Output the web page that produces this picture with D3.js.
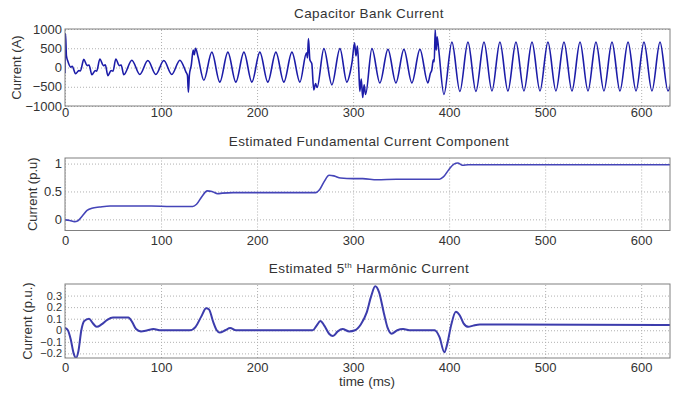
<!DOCTYPE html>
<html>
<head>
<meta charset="utf-8">
<script src="https://cdn.jsdelivr.net/npm/d3@7"></script>
<style>
  body { margin: 0; background: #fff; }
  svg { display: block; font-family: "Liberation Sans", Arial, sans-serif; }
  .grid line { stroke: #b0b0b0; stroke-dasharray: 1,2; }
  .grid .domain { display: none; }
  .lbl text { fill: #333; }
  .lbl .domain, .lbl line { display: none; }
</style>
</head>
<body>
<svg id="chart"></svg>
<script>
const W = 673, H = 396;
const left = 65, right = 670;

// time axis (ms)
const timeTicks = [0, 100, 200, 300, 400, 500, 600];

// panel 1: capacitor bank current (A), read at peaks / troughs / transients
const bankTicks = [-1000, -500, 0, 500, 1000];
const bankCurrent = [
  [0, -150], [0.5, 880], [1.5, 300], [2.9, 170], [6, 10], [7.5, 30], [11, -160], [14.5, -80], [16, -90],
  [19.6, 210], [23, 50], [25, 65], [28, -190], [31.5, -80], [33, -95], [36.3, 220], [40, 50], [42, 70],
  [44.6, -210], [48, -80], [50, -95], [52.9, 220], [56.5, 50], [58.5, 65], [61.2, -190], [69.6, 190],
  [77.9, -180], [86.3, 180], [94.6, -180], [102.9, 180], [111.2, -180], [119.6, 190], [126, -120],
  [127.5, -200], [128.5, -640], [129.5, -200], [131.5, 60], [133.5, 450], [134.5, 330], [136, 500],
  [138.5, 280], [144.6, -330], [152.9, 400], [161.2, -380], [169.6, 400], [177.9, -380], [186.3, 400],
  [194.6, -380], [202.9, 400], [211.2, -380], [219.6, 400], [227.9, -380], [236.3, 400], [244.6, -380],
  [251.5, 380], [252.5, 250], [253.5, 750], [255, 200], [257, 100], [259, -580], [261, -420], [262.5, -520],
  [269.6, 490], [277.9, -450], [286.3, 490], [293.5, -380], [297, -120], [299, 150], [301.5, 640],
  [303, 300], [304.5, 560], [306, -100], [307, -620], [308.5, -300], [310, -780], [311.5, -450],
  [313, -700], [319.6, 490], [327.9, -400], [336.3, 470], [344.6, -400], [352.9, 470], [361.2, -400],
  [369.6, 470], [377.9, -400], [380.5, -150], [382, -60], [383.5, 200], [384.5, 150], [385.5, 980],
  [386.5, 450], [387.5, 800], [389, 500], [394.6, -700], [402.9, 660], [411.2, -620], [419.6, 660],
  [427.9, -620], [436.3, 660], [444.6, -610], [452.9, 660], [461.2, -610], [469.6, 660], [477.9, -610],
  [486.3, 660], [494.6, -610], [502.9, 660], [511.2, -610], [519.6, 660], [527.9, -610], [536.3, 660],
  [544.6, -610], [552.9, 660], [561.2, -610], [569.6, 660], [577.9, -610], [586.3, 660], [594.6, -610],
  [602.9, 660], [611.2, -610], [619.6, 660], [627.9, -610], [636.3, 660]
];

// panel 2: estimated fundamental (p.u)
const fundTicks = [0, 0.5, 1];
const fundamental = [
  [0, -0.01], [5, -0.02], [10, -0.04], [13, -0.03], [18, 0.06], [23, 0.16], [28, 0.2], [36, 0.22],
  [47, 0.24], [90, 0.24], [110, 0.23], [133, 0.23], [137, 0.27], [143, 0.42], [148, 0.51], [153, 0.5],
  [159, 0.46], [164, 0.47], [175, 0.48], [261, 0.48], [265, 0.53], [270, 0.68], [275, 0.79], [280, 0.78],
  [287, 0.74], [300, 0.73], [310, 0.73], [325, 0.71], [345, 0.72], [390, 0.72], [394, 0.76], [400, 0.9],
  [405, 0.99], [409, 1.01], [414, 0.97], [420, 0.98], [630, 0.98]
];

// panel 3: estimated 5th harmonic (p.u.)
const harmTicks = [-0.2, -0.1, 0, 0.1, 0.2, 0.3];
const harmonic = [
  [0, 0.02], [3, 0.0], [6, -0.08], [9, -0.2], [11.5, -0.24], [14, -0.18], [17, 0.0], [20, 0.08],
  [25, 0.1], [29, 0.06], [33, 0.03], [38, 0.05], [44, 0.09], [50, 0.11], [66, 0.11], [70, 0.07],
  [74, 0.01], [79, -0.01], [86, 0.0], [92, 0.01], [100, 0.0], [130, 0.0], [136, 0.03], [142, 0.12],
  [147, 0.19], [150, 0.18], [154, 0.08], [158, 0.0], [161, -0.02], [167, 0.0], [172, 0.02], [178, 0.0],
  [258, 0.0], [262, 0.04], [266, 0.08], [270, 0.04], [275, -0.03], [279, -0.05], [284, -0.01],
  [289, 0.01], [296, -0.01], [302, 0.0], [308, 0.05], [314, 0.15], [319, 0.3], [323, 0.38], [327, 0.33],
  [332, 0.15], [336, 0.02], [340, -0.03], [346, 0.0], [352, 0.01], [360, 0.0], [385, 0.0], [390, -0.06],
  [395, -0.19], [398, -0.12], [402, 0.04], [407, 0.16], [411, 0.13], [415, 0.06], [420, 0.03],
  [425, 0.04], [432, 0.05], [630, 0.045]
];

const svg = d3.select("#chart").attr("width", W).attr("height", H);

const x = d3.scaleLinear().domain([0, 630]).range([left, right]);

function drawPanel(p) {
  const y = d3.scaleLinear().domain(p.yDomain).range([p.bottom, p.top]);
  const g = svg.append("g");
  const ph = p.bottom - p.top;

  // dotted grid from the axes
  g.append("g").attr("class", "grid")
    .attr("transform", `translate(0,${p.bottom})`)
    .call(d3.axisBottom(x).tickValues(timeTicks).tickSize(-ph).tickFormat(""));
  g.append("g").attr("class", "grid")
    .attr("transform", `translate(${left},0)`)
    .call(d3.axisLeft(y).tickValues(p.yTicks).tickSize(-(right - left)).tickFormat(""));

  // clipped curve
  const clipId = "clip" + p.id;
  g.append("clipPath").attr("id", clipId)
    .append("rect").attr("x", left).attr("y", p.top).attr("width", right - left).attr("height", ph);
  const line = d3.line().x(d => x(d[0])).y(d => y(d[1])).curve(d3.curveMonotoneX);
  g.append("path").datum(p.data)
    .attr("clip-path", `url(#${clipId})`)
    .attr("fill", "none")
    .attr("stroke", p.color)
    .attr("stroke-width", p.width)
    .attr("stroke-linejoin", "round")
    .attr("d", line);

  // frame
  g.append("rect").attr("x", left).attr("y", p.top)
    .attr("width", right - left).attr("height", ph)
    .attr("fill", "none").attr("stroke", "#808080").attr("stroke-width", 1);

  // tick labels
  g.append("g").attr("class", "lbl")
    .attr("transform", `translate(0,${p.bottom})`)
    .call(d3.axisBottom(x).tickValues(timeTicks).tickSize(0).tickPadding(p.xPad))
    .selectAll("text").style("font-size", "13px");
  g.append("g").attr("class", "lbl")
    .attr("transform", `translate(${left},0)`)
    .call(d3.axisLeft(y).tickValues(p.yTicks).tickSize(0).tickPadding(3).tickFormat(d3.format("")))
    .selectAll("text").style("font-size", p.yFont);

  // y label
  g.append("text")
    .attr("transform", `translate(${p.labelX},${(p.top + p.bottom) / 2}) rotate(-90)`)
    .attr("text-anchor", "middle")
    .attr("fill", "#333").style("font-size", "13px")
    .text(p.ylabel);

  return g;
}

drawPanel({ id: 1, top: 29, bottom: 106, yDomain: [-1000, 1000], yTicks: bankTicks, data: bankCurrent,
  color: "#1c1ca8", width: 1.6, xPad: 2, yFont: "13px", labelX: 21, ylabel: "Current (A)" });
drawPanel({ id: 2, top: 158, bottom: 230.5, yDomain: [-0.2, 1.1], yTicks: fundTicks, data: fundamental,
  color: "#4444b8", width: 1.6, xPad: 5, yFont: "13px", labelX: 37, ylabel: "Current (p.u)" });
drawPanel({ id: 3, top: 284, bottom: 358, yDomain: [-0.24, 0.4], yTicks: harmTicks, data: harmonic,
  color: "#3c3cac", width: 2, xPad: 5, yFont: "11px", labelX: 32, ylabel: "Current (p.u.)" });

// titles
const titleStyle = t => t.attr("text-anchor", "middle").attr("fill", "#333")
  .style("font-size", "13.5px").style("letter-spacing", "0.4px");
svg.append("text").attr("x", 369).attr("y", 18).call(titleStyle).text("Capacitor Bank Current");
svg.append("text").attr("x", 369).attr("y", 146).call(titleStyle).text("Estimated Fundamental Current Component");
const t3 = svg.append("text").attr("x", 369).attr("y", 273).call(titleStyle);
t3.append("tspan").text("Estimated 5");
t3.append("tspan").attr("dy", -5).style("font-size", "8px").text("th");
t3.append("tspan").attr("dy", 5).text(" Harmônic Current");

svg.append("text").attr("x", 367).attr("y", 386)
  .attr("text-anchor", "middle").attr("fill", "#333").style("font-size", "13.5px")
  .text("time (ms)");
</script>
</body>
</html>
